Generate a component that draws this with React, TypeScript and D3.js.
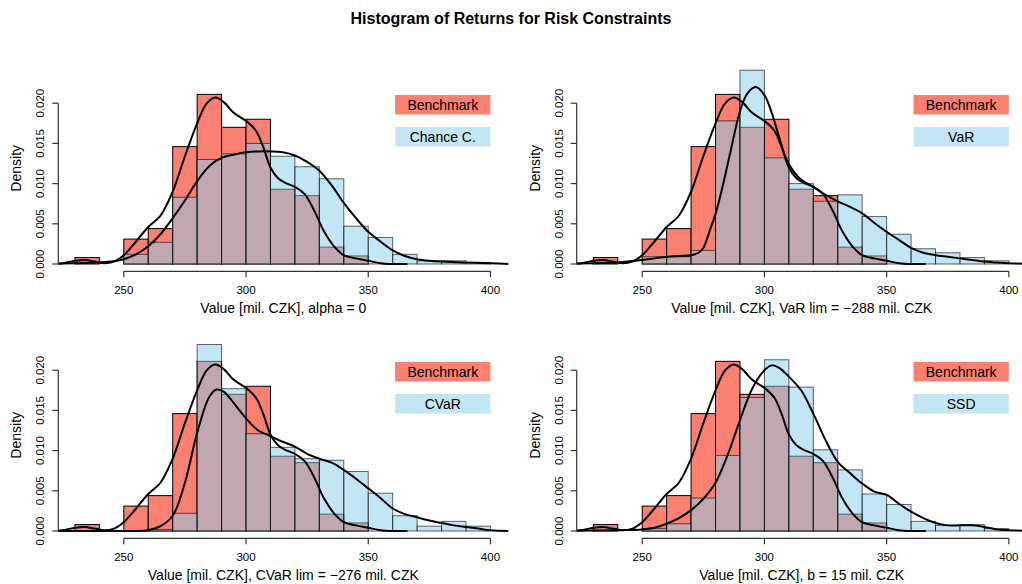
import React from "react";
import * as d3 from "d3";

// bin edges shared by all histograms (10 mil. CZK wide)
const binEdges = [230, 240, 250, 260, 270, 280, 290, 300, 310, 320, 330, 340, 350, 360, 370, 380, 390, 400];

// histogram densities, one value per bin starting at 230
const benchmarkHist = [0.0008, 0, 0.0031, 0.0044, 0.0146, 0.0211, 0.017, 0.018, 0.0093, 0.0085, 0.0021, 0.001, 0];
const chanceHist = [0, 0, 0.0012, 0.0027, 0.0083, 0.013, 0.0137, 0.015, 0.0134, 0.0121, 0.0106, 0.0047, 0.0033, 0.0012, 0.0004, 0.0004, 0.0002];
const varHist = [0, 0, 0.0009, 0.0009, 0.0017, 0.0178, 0.0241, 0.0132, 0.01, 0.0078, 0.0086, 0.0059, 0.0037, 0.0019, 0.0014, 0.0008, 0.0004];
const cvarHist = [0, 0, 0, 0.0002, 0.0022, 0.0232, 0.0177, 0.0121, 0.0104, 0.009, 0.0088, 0.0074, 0.0047, 0.0019, 0.0006, 0.0012, 0.0006];
const ssdHist = [0, 0, 0.0003, 0.0009, 0.0041, 0.0094, 0.0166, 0.0213, 0.0179, 0.0101, 0.0076, 0.0046, 0.0033, 0.0012, 0.0007, 0.0008, 0.0003];

// kernel density curves
const benchmarkCurveX = [218, 225, 230, 234, 238, 242, 246, 250, 255, 260, 265, 270, 275, 280, 284, 287.5, 291, 295, 300, 304, 307, 310, 313, 316, 320, 324, 328, 332, 336, 340, 345, 350, 355, 360, 366];
const benchmarkCurveY = [0, 0.0001, 0.0004, 0.0005, 0.0003, 0.0001, 0.0003, 0.0011, 0.0028, 0.0046, 0.006, 0.009, 0.0134, 0.0175, 0.02, 0.0207, 0.0201, 0.0188, 0.0178, 0.0166, 0.0146, 0.012, 0.0107, 0.0101, 0.0096, 0.0087, 0.0066, 0.004, 0.0022, 0.0011, 0.0007, 0.0004, 0.0001, 0, 0];

const chanceCurveX = [218, 230, 240, 245, 250, 255, 260, 265, 270, 275, 280, 285, 290, 295, 300, 305, 310, 315, 320, 325, 330, 335, 340, 345, 350, 355, 360, 365, 370, 375, 380, 390, 400, 408];
const chanceCurveY = [0, 0.0001, 0.0002, 0.0003, 0.0006, 0.0012, 0.0022, 0.0037, 0.0057, 0.0079, 0.0103, 0.0122, 0.0132, 0.0136, 0.0139, 0.014, 0.014, 0.0139, 0.0135, 0.0127, 0.0116, 0.0098, 0.0076, 0.0057, 0.004, 0.0028, 0.0017, 0.001, 0.0006, 0.0004, 0.0003, 0.0002, 0.0001, 0];

const varCurveX = [218, 230, 240, 250, 255, 260, 265, 270, 273, 275, 278, 280, 283, 286, 290, 293, 296.5, 300, 303, 306, 309, 312, 315, 320, 325, 330, 335, 340, 345, 350, 355, 360, 365, 370, 375, 380, 385, 390, 395, 400, 408];
const varCurveY = [0, 0.0001, 0.0002, 0.0005, 0.0007, 0.0009, 0.001, 0.0011, 0.0014, 0.002, 0.0045, 0.0062, 0.0098, 0.0138, 0.019, 0.0212, 0.022, 0.021, 0.0188, 0.0158, 0.013, 0.0115, 0.0105, 0.0096, 0.0086, 0.0078, 0.0071, 0.0063, 0.0051, 0.004, 0.003, 0.002, 0.0014, 0.0011, 0.0009, 0.0007, 0.0005, 0.0003, 0.0002, 0.0001, 0];

const cvarCurveX = [218, 240, 255, 260, 265, 270, 275, 280, 285, 288, 291, 295, 300, 305, 310, 315, 320, 325, 330, 335, 340, 345, 350, 355, 360, 365, 370, 375, 380, 385, 390, 395, 400, 408];
const cvarCurveY = [0, 0, 0, 0.0001, 0.0006, 0.0019, 0.006, 0.0122, 0.0167, 0.0176, 0.0173, 0.0159, 0.014, 0.0125, 0.0118, 0.0111, 0.0105, 0.0096, 0.009, 0.0085, 0.0076, 0.0065, 0.0053, 0.0041, 0.0028, 0.0021, 0.0017, 0.0013, 0.001, 0.0007, 0.0005, 0.0003, 0.0001, 0];

const ssdCurveX = [218, 240, 250, 255, 260, 265, 270, 275, 280, 285, 290, 295, 300, 303, 306, 310, 315, 320, 325, 330, 335, 340, 345, 350, 355, 360, 365, 370, 375, 380, 385, 390, 395, 400, 408];
const ssdCurveY = [0, 0.0001, 0.0002, 0.0004, 0.0009, 0.0016, 0.0026, 0.004, 0.006, 0.0095, 0.0138, 0.0177, 0.02, 0.0206, 0.0203, 0.0192, 0.0175, 0.0146, 0.0113, 0.0086, 0.0072, 0.0059, 0.0049, 0.0045, 0.0034, 0.0024, 0.0016, 0.001, 0.0007, 0.0007, 0.0007, 0.0005, 0.0002, 0.0001, 0];

const xTicks = [250, 300, 350, 400];
const yTicks = [0, 0.005, 0.01, 0.015, 0.02];

const panelNames = ["Chance C.", "VaR", "CVaR", "SSD"];
const panelXLabels = [
  "Value [mil. CZK], alpha = 0",
  "Value [mil. CZK], VaR lim = \u2212288 mil. CZK",
  "Value [mil. CZK], CVaR lim = \u2212276 mil. CZK",
  "Value [mil. CZK], b = 15 mil. CZK",
];
const panelHists = [chanceHist, varHist, cvarHist, ssdHist];
const panelCurvesX = [chanceCurveX, varCurveX, cvarCurveX, ssdCurveX];
const panelCurvesY = [chanceCurveY, varCurveY, cvarCurveY, ssdCurveY];

const FONT = "'Liberation Sans', Arial, Helvetica, sans-serif";
const SALMON = "#fa8072";
const SKY = "rgba(135,206,235,0.5)";

const layout = [
  { left: 58.3, y0: 264 },
  { left: 576.7, y0: 264 },
  { left: 58.3, y0: 531 },
  { left: 576.7, y0: 531 },
];

function Panel({ idx }: { idx: number }) {
  const { left, y0 } = layout[idx];
  const x = d3.scaleLinear().domain([223.2, 407.3]).range([left, left + 450]);
  const y = d3.scaleLinear().domain([0, 0.02]).range([y0, y0 - 160.8]);
  const clipId = `clip${idx}`;

  const line = (xs: number[], ys: number[]) =>
    d3
      .line<number>()
      .x((_, i) => x(xs[i]))
      .y((d) => Math.min(y0, y(d)))
      .curve(d3.curveCatmullRom.alpha(0.5))(ys) || "";

  const bars = (vals: number[], fill: string, stroke: string, key: string) =>
    vals.map((v, i) => (
      <rect
        key={key + i}
        x={x(binEdges[i])}
        y={y(v)}
        width={x(binEdges[i + 1]) - x(binEdges[i])}
        height={y0 - y(v)}
        fill={fill}
        stroke={stroke}
        strokeWidth={1}
      />
    ));

  const axisY = y0 + 7.3;
  const legX0 = x(361);
  const legX1 = x(400);

  return (
    <g>
      <defs>
        <clipPath id={clipId}>
          <rect x={left} y={y0 - 220} width={450} height={228} />
        </clipPath>
      </defs>
      <g clipPath={`url(#${clipId})`}>
        {bars(benchmarkHist, SALMON, "#000", "b")}
        {bars(panelHists[idx], SKY, "rgba(0,0,0,0.6)", "o")}
        <path d={line(benchmarkCurveX, benchmarkCurveY)} fill="none" stroke="#000" strokeWidth={2} />
        <path d={line(panelCurvesX[idx], panelCurvesY[idx])} fill="none" stroke="#000" strokeWidth={2} />
      </g>
      {/* x axis */}
      <line x1={x(xTicks[0])} x2={x(xTicks[xTicks.length - 1])} y1={axisY} y2={axisY} stroke="#333" strokeWidth={1.2} />
      {xTicks.map((t) => (
        <g key={"xt" + t}>
          <line x1={x(t)} x2={x(t)} y1={axisY} y2={axisY + 6} stroke="#333" strokeWidth={1.2} />
          <text x={x(t)} y={y0 + 29.5} textAnchor="middle" fontSize={11.5} fontFamily={FONT}>
            {t}
          </text>
        </g>
      ))}
      {/* y axis */}
      <line x1={left} x2={left} y1={y(0)} y2={y(0.02)} stroke="#333" strokeWidth={1.2} />
      {yTicks.map((t) => (
        <g key={"yt" + t}>
          <line x1={left} x2={left - 6} y1={y(t)} y2={y(t)} stroke="#333" strokeWidth={1.2} />
          <text
            transform={`translate(${left - 14},${y(t)}) rotate(-90)`}
            textAnchor="middle"
            fontSize={11.5}
            fontFamily={FONT}
          >
            {t.toFixed(3)}
          </text>
        </g>
      ))}
      <text
        transform={`translate(${left - 37},${y0 - 95.7}) rotate(-90)`}
        textAnchor="middle"
        fontSize={14}
        fontFamily={FONT}
      >
        Density
      </text>
      <text x={left + 225} y={y0 + 49} textAnchor="middle" fontSize={14} fontFamily={FONT}>
        {panelXLabels[idx]}
      </text>
      {/* legend */}
      <rect x={legX0} y={y0 - 169} width={legX1 - legX0} height={19.5} fill={SALMON} />
      <text x={(legX0 + legX1) / 2} y={y0 - 154.5} textAnchor="middle" fontSize={14} fontFamily={FONT}>
        Benchmark
      </text>
      <rect x={legX0} y={y0 - 137} width={legX1 - legX0} height={19.5} fill={SKY} />
      <text x={(legX0 + legX1) / 2} y={y0 - 122.5} textAnchor="middle" fontSize={14} fontFamily={FONT}>
        {panelNames[idx]}
      </text>
    </g>
  );
}

export default function App() {
  return (
    <svg
      width={1022}
      height={584}
      style={{ position: "absolute", left: 0, top: 0, background: "#fff" }}
    >
      <rect width={1022} height={584} fill="#fff" />
      <text x={511} y={24} textAnchor="middle" fontSize={16} fontWeight="bold" fontFamily={FONT}>
        Histogram of Returns for Risk Constraints
      </text>
      {layout.map((_, i) => (
        <Panel key={i} idx={i} />
      ))}
    </svg>
  );
}
